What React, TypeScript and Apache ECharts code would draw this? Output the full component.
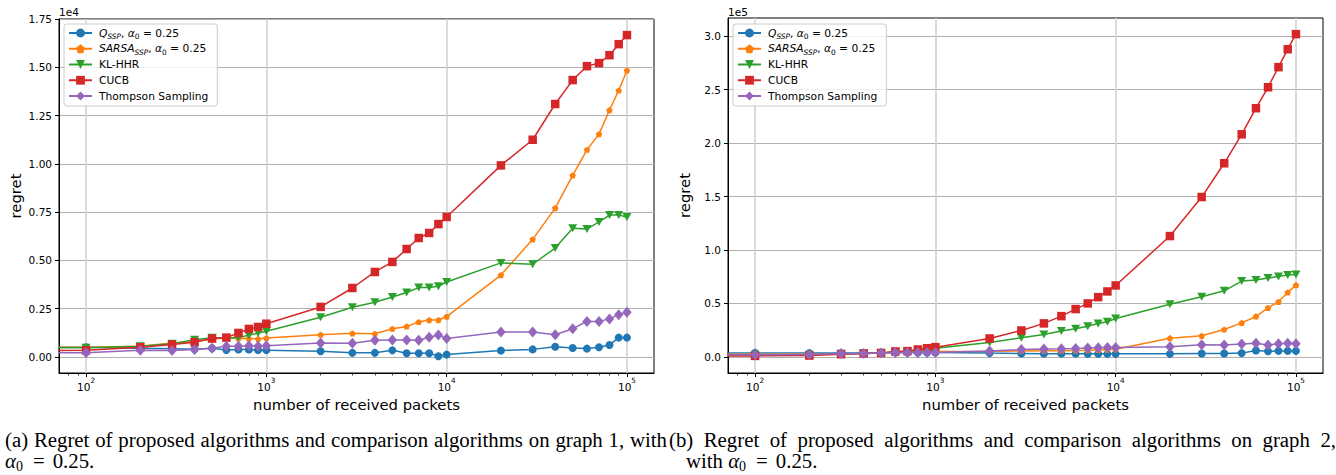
import React, { useEffect, useRef } from 'react';
import * as echarts from 'echarts';

// ---------------- data ----------------
const packets = [
  100, 200, 300, 400, 500, 600, 700, 800, 900, 1000,
  2000, 3000, 4000, 5000, 6000, 7000, 8000, 9000, 10000,
  20000, 30000, 40000, 50000, 60000, 70000, 80000, 90000, 100000,
];
// x = 0 packets, regret 0: on a log axis matplotlib clips it to the far left
const zeroPackets = 1e-30;
const zeroRegret = 0;

const seriesNames = ['Q_SSP', 'SARSA_SSP', 'KL-HHR', 'CUCB', 'Thompson Sampling'];

// graph 1 (regret in units of 1e4)
const g1Q = [0.05, 0.045, 0.042, 0.04, 0.045, 0.036, 0.038, 0.038, 0.035, 0.035, 0.029, 0.021, 0.021, 0.034, 0.019, 0.019, 0.019, 0.003, 0.012, 0.033, 0.039, 0.053, 0.046, 0.043, 0.05, 0.062, 0.1, 0.1];
const g1Sarsa = [0.05, 0.055, 0.072, 0.08, 0.093, 0.098, 0.096, 0.095, 0.093, 0.098, 0.115, 0.122, 0.12, 0.146, 0.158, 0.181, 0.191, 0.191, 0.209, 0.424, 0.609, 0.771, 0.94, 1.073, 1.154, 1.278, 1.38, 1.484];
const g1KL = [0.048, 0.055, 0.068, 0.089, 0.099, 0.097, 0.101, 0.112, 0.124, 0.133, 0.205, 0.257, 0.283, 0.31, 0.334, 0.359, 0.359, 0.366, 0.388, 0.487, 0.48, 0.564, 0.666, 0.662, 0.699, 0.735, 0.735, 0.725];
const g1CUCB = [0.034, 0.05, 0.064, 0.076, 0.095, 0.1, 0.124, 0.145, 0.155, 0.172, 0.259, 0.357, 0.44, 0.492, 0.559, 0.616, 0.642, 0.688, 0.725, 0.992, 1.125, 1.31, 1.434, 1.506, 1.522, 1.563, 1.62, 1.667];
const g1TS = [0.021, 0.035, 0.033, 0.038, 0.045, 0.055, 0.055, 0.058, 0.055, 0.058, 0.072, 0.071, 0.086, 0.088, 0.088, 0.086, 0.102, 0.114, 0.095, 0.129, 0.129, 0.115, 0.146, 0.184, 0.184, 0.197, 0.219, 0.231];

// graph 2 (regret in units of 1e5)
const g2Q = [0.037, 0.035, 0.035, 0.035, 0.038, 0.04, 0.041, 0.041, 0.041, 0.041, 0.035, 0.032, 0.03, 0.03, 0.03, 0.028, 0.028, 0.028, 0.028, 0.028, 0.032, 0.032, 0.035, 0.059, 0.053, 0.056, 0.056, 0.056];
const g2Sarsa = [0.025, 0.025, 0.03, 0.032, 0.035, 0.04, 0.042, 0.045, 0.047, 0.05, 0.052, 0.055, 0.057, 0.058, 0.06, 0.062, 0.065, 0.068, 0.072, 0.175, 0.197, 0.256, 0.318, 0.378, 0.459, 0.515, 0.603, 0.671];
const g2KL = [0.02, 0.02, 0.028, 0.032, 0.037, 0.045, 0.05, 0.06, 0.068, 0.08, 0.135, 0.178, 0.21, 0.241, 0.262, 0.287, 0.313, 0.328, 0.359, 0.493, 0.562, 0.618, 0.709, 0.718, 0.737, 0.752, 0.765, 0.771];
const g2CUCB = [0.009, 0.012, 0.025, 0.032, 0.037, 0.051, 0.054, 0.069, 0.081, 0.091, 0.172, 0.247, 0.313, 0.381, 0.447, 0.5, 0.559, 0.612, 0.668, 1.13, 1.495, 1.811, 2.082, 2.326, 2.522, 2.71, 2.878, 3.019];
const g2TS = [0.019, 0.022, 0.032, 0.032, 0.037, 0.041, 0.041, 0.041, 0.041, 0.041, 0.056, 0.069, 0.073, 0.076, 0.079, 0.082, 0.085, 0.088, 0.088, 0.094, 0.113, 0.11, 0.12, 0.127, 0.11, 0.122, 0.127, 0.122];

const graph1 = [g1Q, g1Sarsa, g1KL, g1CUCB, g1TS];
const graph2 = [g2Q, g2Sarsa, g2KL, g2CUCB, g2TS];

const xMajorTicks = [100, 1000, 10000, 100000];
const yTicks1 = [0, 0.25, 0.5, 0.75, 1.0, 1.25, 1.5, 1.75];
const yTicks2 = [0, 0.5, 1.0, 1.5, 2.0, 2.5, 3.0];
const yOffsetLabels = ['1e4', '1e5'];

const captionA1 = '(a) Regret of proposed algorithms and comparison algorithms on graph 1, with';
const captionB1 = '(b) Regret of proposed algorithms and comparison algorithms on graph 2,';

// ---------------- styles ----------------
const SANS = '"DejaVu Sans", sans-serif';
const colors = ['#1f77b4', '#ff7f0e', '#2ca02c', '#d62728', '#9467bd'];
const symbols = [
  { symbol: 'circle', size: 8, rotate: 0 },
  { symbol: 'path://M0,-10L9.51,-3.09L5.88,8.09L-5.88,8.09L-9.51,-3.09Z', size: 6.5, rotate: 0 },
  { symbol: 'triangle', size: [9, 8], rotate: 180 },
  { symbol: 'rect', size: 8.5, rotate: 0 },
  { symbol: 'diamond', size: [9.5, 11], rotate: 0 },
];

const grids = [
  { left: 59, top: 19, width: 595, height: 354 },
  { left: 728, top: 18, width: 595, height: 355 },
];

const logMin = Math.pow(10, 2 - 0.15);
const logMax = Math.pow(10, 5 + 0.15);

function legendLabel(name: string) {
  if (name === 'Q_SSP') return '{it|Q}{sub|SSP}{t|, }{it|α}{sub0|0}{t| = 0.25}';
  if (name === 'SARSA_SSP') return '{it|SARSA}{sub|SSP}{t|, }{it|α}{sub0|0}{t| = 0.25}';
  return '{t|' + name + '}';
}

const legendRich = {
  t: { fontFamily: SANS, fontSize: 10.7, lineHeight: 14, color: '#000' },
  it: { fontFamily: SANS, fontSize: 10.7, lineHeight: 14, fontStyle: 'italic', color: '#000' },
  sub: { fontFamily: SANS, fontSize: 7.4, lineHeight: 8, fontStyle: 'italic', verticalAlign: 'bottom', color: '#000' },
  sub0: { fontFamily: SANS, fontSize: 7.4, lineHeight: 8, verticalAlign: 'bottom', color: '#000' },
};

function buildOption() {
  const xAxis: any[] = [];
  const yAxis: any[] = [];
  const series: any[] = [];
  const legend: any[] = [];
  const graphic: any[] = [];
  const datasets = [graph1, graph2];
  const yTickSets = [yTicks1, yTicks2];
  const yDigits = [2, 1];

  datasets.forEach((graph, g) => {
    const yTicks = yTickSets[g];
    let dataMax = 0;
    graph.forEach((arr) => arr.forEach((v) => { if (v > dataMax) dataMax = v; }));
    const dataMin = zeroRegret;
    const margin = (dataMax - dataMin) * 0.05;

    xAxis.push({
      type: 'log',
      gridIndex: g,
      logBase: 10,
      min: logMin,
      max: logMax,
      axisLine: { show: true, onZero: false, lineStyle: { color: '#000', width: 1 } },
      axisTick: { show: true, customValues: xMajorTicks, length: 4, lineStyle: { color: '#000', width: 1 } },
      minorTick: { show: true, splitNumber: 9, length: 2.5, lineStyle: { color: '#000', width: 0.8 } },
      minorSplitLine: { show: false },
      splitLine: { show: true, lineStyle: { color: '#d2d2d2', width: 1.6 } },
      axisLabel: {
        customValues: xMajorTicks,
        margin: 4,
        formatter: (v: number) => '{b|10}{s|' + Math.round(Math.log10(v)) + '}',
        rich: {
          b: { fontFamily: SANS, fontSize: 10.5, lineHeight: 15, verticalAlign: 'bottom', color: '#000' },
          s: { fontFamily: SANS, fontSize: 7.3, lineHeight: 9, verticalAlign: 'top', color: '#000' },
        },
      },
      name: 'number of received packets',
      nameLocation: 'middle',
      nameGap: 24,
      nameTextStyle: { fontFamily: SANS, fontSize: 14.8, color: '#000' },
    });

    yAxis.push({
      type: 'value',
      gridIndex: g,
      min: dataMin - margin,
      max: dataMax + margin,
      axisLine: { show: true, onZero: false, lineStyle: { color: '#000', width: 1 } },
      axisTick: { show: true, customValues: yTicks, length: 4, lineStyle: { color: '#000', width: 1 } },
      splitLine: { show: true, lineStyle: { color: '#b0b0b0', width: 1 } },
      axisLabel: {
        customValues: yTicks,
        margin: 7,
        fontFamily: SANS,
        fontSize: 10.5,
        color: '#000',
        formatter: (v: number) => v.toFixed(yDigits[g]),
      },
      name: 'regret',
      nameLocation: 'middle',
      nameGap: 36,
      nameTextStyle: { fontFamily: SANS, fontSize: 14.8, color: '#000' },
    });

    graph.forEach((arr, i) => {
      const sym = symbols[i];
      const data: any[] = [{ value: [zeroPackets, zeroRegret], symbol: 'none' }];
      packets.forEach((p, k) => data.push([p, arr[k]]));
      series.push({
        type: 'line',
        name: seriesNames[i],
        xAxisIndex: g,
        yAxisIndex: g,
        data,
        z: 2 + i,
        clip: true,
        symbol: sym.symbol,
        symbolSize: sym.size,
        symbolRotate: sym.rotate,
        symbolKeepAspect: true,
        showAllSymbol: true,
        lineStyle: { color: colors[i], width: 1.5 },
        itemStyle: { color: colors[i], borderWidth: 0 },
        emphasis: { disabled: true },
      });
    });

    legend.push({
      show: true,
      orient: 'vertical',
      left: grids[g].left + 5,
      top: 24,
      data: seriesNames,
      selectedMode: false,
      itemWidth: 23,
      itemHeight: 11,
      itemGap: 1.75,
      padding: [2, 9, 3, 4],
      backgroundColor: 'rgba(255,255,255,0.8)',
      borderColor: '#cccccc',
      borderWidth: 1,
      borderRadius: 3,
      formatter: legendLabel,
      textStyle: { fontFamily: SANS, fontSize: 10.7, lineHeight: 14, color: '#000', padding: [0, 0, 0, 2], rich: legendRich },
    });

    graphic.push({
      type: 'text',
      left: grids[g].left,
      top: 6,
      style: { text: yOffsetLabels[g], fontFamily: SANS, fontSize: 10.5, fill: '#000' },
    });
  });

  return {
    animation: false,
    backgroundColor: '#fff',
    grid: grids.map((gr) => ({
      ...gr,
      show: true,
      borderColor: '#000',
      borderWidth: 1,
      backgroundColor: 'transparent',
      containLabel: false,
    })),
    xAxis,
    yAxis,
    legend,
    series,
    graphic,
  };
}

const captionBase: React.CSSProperties = {
  position: 'absolute',
  fontFamily: '"Liberation Serif", "Times New Roman", serif',
  fontSize: 20.8,
  lineHeight: '21px',
  color: '#000',
  margin: 0,
  padding: 0,
  whiteSpace: 'nowrap',
};

function Alpha0() {
  return (
    <>
      <i>α</i>
      <span style={{ fontSize: 14, position: 'relative', top: 3 }}>0</span>
      <span style={{ marginLeft: 10 }}>=</span>
      <span style={{ marginLeft: 8 }}>0.25.</span>
    </>
  );
}

export default function App() {
  const ref = useRef<HTMLDivElement>(null);
  useEffect(() => {
    document.body.style.margin = '0';
    if (!ref.current) return;
    const chart = echarts.init(ref.current, undefined, { renderer: 'svg' });
    chart.setOption(buildOption() as any);
    return () => chart.dispose();
  }, []);

  const justify: React.CSSProperties = { whiteSpace: 'normal', textAlign: 'justify', textAlignLast: 'justify' as any };

  return (
    <div style={{ position: 'relative', width: 1336, height: 475, background: '#fff', overflow: 'hidden' }}>
      <div ref={ref} style={{ position: 'absolute', left: 0, top: 0, width: 1336, height: 425 }} />
      <div style={{ ...captionBase, ...justify, left: 5, top: 429, width: 662 }}>
        {captionA1}
      </div>
      <div style={{ ...captionBase, left: 5, top: 450 }}>
        <Alpha0 />
      </div>
      <div style={{ ...captionBase, ...justify, left: 669, top: 429, width: 667 }}>
        {captionB1}
      </div>
      <div style={{ ...captionBase, left: 686, top: 450 }}>
        with <Alpha0 />
      </div>
    </div>
  );
}
